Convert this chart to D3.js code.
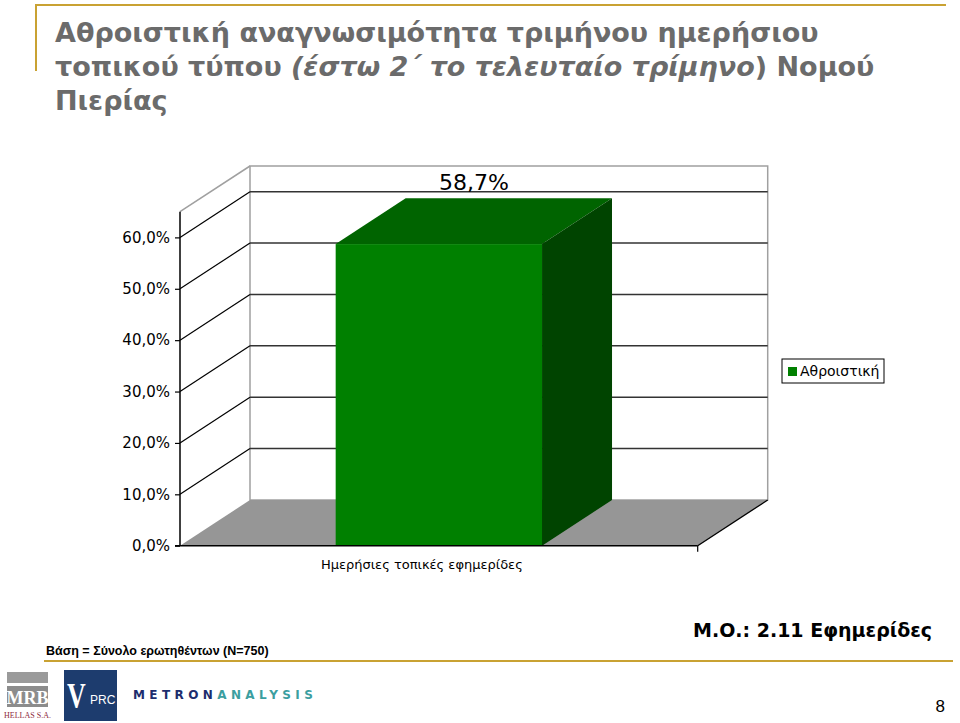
<!DOCTYPE html>
<html>
<head>
<meta charset="utf-8">
<script src="https://cdn.jsdelivr.net/npm/d3@7"></script>
<style>
  body { margin: 0; background: #fff; }
  svg { display: block; }
</style>
</head>
<body>
<svg id="vis" width="960" height="723"></svg>
<script>
// chart data
const categories = ["Ημερήσιες τοπικές εφημερίδες"];
const seriesName = "Αθροιστική";
const values = [0.587];
const yTicks = [0, 0.1, 0.2, 0.3, 0.4, 0.5, 0.6];
const yMax = 0.65;

// texts
const titleLine1 = "Αθροιστική αναγνωσιμότητα τριμήνου ημερήσιου";
const titleLine2a = "τοπικού τύπου ";
const titleLine2b = "(έστω 2΄ το τελευταίο τρίμηνο";
const titleLine2c = ") Νομού";
const titleLine3 = "Πιερίας";
const baseText = "Βάση = Σύνολο ερωτηθέντων (Ν=750)";
const meanText = "Μ.Ο.: 2.11 Εφημερίδες";
const pageNo = "8";

const GOLD = "#c9a233";
const DEPTH = {dx: 70, dy: -45.7};   // 3d offset of back wall

const svg = d3.select("#vis");

// greek style percent format (comma decimal)
const locale = d3.formatLocale({decimal: ",", thousands: ".", grouping: [3], currency: ["", "€"]});
const pct = locale.format(".1%");

// ---- title + frame lines
svg.append("line").attr("x1", 36).attr("x2", 946).attr("y1", 5).attr("y2", 5)
    .style("stroke", GOLD).style("stroke-width", 2);
svg.append("line").attr("x1", 36).attr("x2", 36).attr("y1", 4).attr("y2", 71)
    .style("stroke", GOLD).style("stroke-width", 2);

const title = svg.append("g")
    .style("font-family", "'DejaVu Sans', Verdana, sans-serif")
    .style("font-weight", "bold")
    .style("font-size", "27px")
    .style("fill", "#6b6b6b");
title.append("text").attr("x", 55).attr("y", 42).text(titleLine1);
const t2 = title.append("text").attr("x", 55).attr("y", 76);
t2.append("tspan").text(titleLine2a);
t2.append("tspan").style("font-style", "italic").text(titleLine2b);
t2.append("tspan").text(titleLine2c);
title.append("text").attr("x", 55).attr("y", 110).text(titleLine3);

// ---- scales
const x0 = 180, x1 = 697.7;
const xScale = d3.scaleBand()
    .domain(categories)
    .range([x0, x1])
    .paddingInner(0.43)
    .paddingOuter(0.43);
const yScale = d3.scaleLinear()
    .domain([0, yMax])
    .range([545.7, 211.7]);

const chart = svg.append("g");
const yBottom = yScale(0), yTop = yScale(yMax);

// back wall
chart.append("rect")
    .attr("x", x0 + DEPTH.dx).attr("y", yTop + DEPTH.dy)
    .attr("width", x1 - x0).attr("height", yBottom - yTop)
    .style("fill", "#fff").style("stroke", "#a0a0a0").style("stroke-width", 1.5);
// side wall top edge
chart.append("line")
    .attr("x1", x0).attr("y1", yTop).attr("x2", x0 + DEPTH.dx).attr("y2", yTop + DEPTH.dy)
    .style("stroke", "#a0a0a0").style("stroke-width", 1.5);

// floor
chart.append("path")
    .attr("d", `M${x0},${yBottom} L${x1},${yBottom} L${x1 + DEPTH.dx},${yBottom + DEPTH.dy} L${x0 + DEPTH.dx},${yBottom + DEPTH.dy} Z`)
    .style("fill", "#969696").style("stroke", "none");
chart.append("line")
    .attr("x1", x1).attr("y1", yBottom).attr("x2", x1 + DEPTH.dx).attr("y2", yBottom + DEPTH.dy)
    .style("stroke", "#000").style("stroke-width", 1.3);

// gridlines: on side wall and back wall
const grid = chart.selectAll(".grid")
    .data(yTicks.filter(d => d > 0))
    .enter().append("g");
grid.append("line")
    .attr("x1", x0).attr("y1", d => yScale(d))
    .attr("x2", x0 + DEPTH.dx).attr("y2", d => yScale(d) + DEPTH.dy)
    .style("stroke", "#000").style("stroke-width", 1.2);
grid.append("line")
    .attr("x1", x0 + DEPTH.dx).attr("y1", d => yScale(d) + DEPTH.dy)
    .attr("x2", x1 + DEPTH.dx).attr("y2", d => yScale(d) + DEPTH.dy)
    .style("stroke", "#333").style("stroke-width", 1.5);

// bars (front, top, side)
const bars = chart.selectAll(".bar")
    .data(values)
    .enter().append("g");
bars.append("path")
    .attr("d", (d, i) => {
        const bx = xScale(categories[i]), bw = xScale.bandwidth(), by = yScale(d);
        return `M${bx},${by} L${bx + bw},${by} L${bx + bw + DEPTH.dx},${by + DEPTH.dy} L${bx + DEPTH.dx},${by + DEPTH.dy} Z`;
    })
    .style("fill", "#006400");
bars.append("path")
    .attr("d", (d, i) => {
        const bx = xScale(categories[i]) + xScale.bandwidth(), by = yScale(d);
        return `M${bx},${by} L${bx + DEPTH.dx},${by + DEPTH.dy} L${bx + DEPTH.dx},${yBottom + DEPTH.dy} L${bx},${yBottom} Z`;
    })
    .style("fill", "#004400");
bars.append("rect")
    .attr("x", (d, i) => xScale(categories[i]))
    .attr("y", d => yScale(d))
    .attr("width", xScale.bandwidth())
    .attr("height", d => yBottom - yScale(d))
    .style("fill", "#008000");
// value labels
bars.append("text")
    .attr("x", (d, i) => xScale(categories[i]) + xScale.bandwidth() / 2 + DEPTH.dx / 2)
    .attr("y", d => yScale(d) + DEPTH.dy - 8.5)
    .style("text-anchor", "middle")
    .style("font-family", "'DejaVu Sans', Verdana, sans-serif")
    .style("font-size", "22px")
    .style("fill", "#000")
    .text(d => pct(d));

// axis line + bottom edge
const yAxis = d3.axisLeft(yScale)
    .tickValues(yTicks)
    .tickSize(5)
    .tickPadding(5)
    .tickFormat(d => pct(d));
const axisG = chart.append("g")
    .attr("transform", `translate(${x0},0)`)
    .call(yAxis);
axisG.select(".domain").attr("d", `M0,${yTop}V${yBottom}`).style("stroke-width", 1.5);
axisG.selectAll("text")
    .style("font-family", "'DejaVu Sans', Verdana, sans-serif")
    .style("font-size", "15px")
    .style("fill", "#000");
axisG.selectAll(".tick line").style("stroke-width", 1.2);

chart.append("line")
    .attr("x1", x0 - 5).attr("x2", x1).attr("y1", yBottom).attr("y2", yBottom)
    .style("stroke", "#000").style("stroke-width", 1.5);
chart.append("line")
    .attr("x1", x1).attr("x2", x1).attr("y1", yBottom).attr("y2", yBottom + 6)
    .style("stroke", "#000").style("stroke-width", 1.2);

// category labels
chart.selectAll(".cat")
    .data(categories)
    .enter().append("text")
    .attr("x", d => xScale(d) + xScale.bandwidth() / 2 - 17)
    .attr("y", 569)
    .style("text-anchor", "middle")
    .style("font-family", "'DejaVu Sans', Verdana, sans-serif")
    .style("font-size", "13px")
    .style("fill", "#000")
    .text(d => d);

// legend
const legend = svg.append("g").attr("transform", "translate(782,359)");
legend.append("rect").attr("width", 102).attr("height", 24)
    .style("fill", "#fff").style("stroke", "#000").style("stroke-width", 1);
legend.append("rect").attr("x", 6).attr("y", 8).attr("width", 9).attr("height", 9)
    .style("fill", "#008000");
legend.append("text").attr("x", 18).attr("y", 17)
    .style("font-family", "'DejaVu Sans', Verdana, sans-serif")
    .style("font-size", "14px")
    .text(seriesName);

// ---- footer
svg.append("line").attr("x1", 44).attr("x2", 953).attr("y1", 661).attr("y2", 661)
    .style("stroke", GOLD).style("stroke-width", 2);
svg.append("text").attr("x", 46).attr("y", 655)
    .style("font-family", "'Liberation Sans', Arial, sans-serif")
    .style("font-weight", "bold").style("font-size", "12.5px")
    .text(baseText);
svg.append("text").attr("x", 693).attr("y", 637)
    .style("font-family", "'DejaVu Sans', Verdana, sans-serif")
    .style("font-weight", "bold").style("font-size", "19px")
    .text(meanText);
svg.append("text").attr("x", 945).attr("y", 712)
    .style("font-family", "'Liberation Sans', Arial, sans-serif")
    .style("font-size", "17px").style("text-anchor", "end")
    .text(pageNo);

// logos
const mrb = svg.append("g");
mrb.append("rect").attr("x", 7).attr("y", 672).attr("width", 41).attr("height", 11).style("fill", "#9a9a9a");
mrb.append("rect").attr("x", 7).attr("y", 686).attr("width", 41).attr("height", 21).style("fill", "#8c8c8c");
mrb.append("text").attr("x", 27.5).attr("y", 704).style("text-anchor", "middle")
    .style("font-family", "'Liberation Serif', serif").style("font-weight", "bold")
    .style("font-size", "18px").style("fill", "#fff").text("MRB");
mrb.append("text").attr("x", 27.5).attr("y", 718).style("text-anchor", "middle")
    .style("font-family", "'Liberation Serif', serif")
    .style("font-size", "8px").style("fill", "#8e2a3c").text("HELLAS S.A.");

const vprc = svg.append("g");
vprc.append("rect").attr("x", 64).attr("y", 670).attr("width", 53).attr("height", 51).style("fill", "#1d3c6e");
vprc.append("text").attr("transform", "translate(67,708) scale(0.72,1)")
    .style("font-family", "'Liberation Serif', serif").style("font-weight", "bold")
    .style("font-size", "36px").style("fill", "#fff").text("V");
vprc.append("text").attr("x", 90).attr("y", 704)
    .style("font-family", "'Liberation Sans', sans-serif")
    .style("font-size", "12px").style("fill", "#fff").text("PRC");

const metron = svg.append("text").attr("x", 133).attr("y", 699)
    .style("font-family", "'DejaVu Sans', sans-serif").style("font-weight", "bold")
    .style("font-size", "12px").style("letter-spacing", "4.4px");
metron.append("tspan").style("fill", "#1d2d6e").text("METRON");
metron.append("tspan").style("fill", "#3b9ea0").text("ANALYSIS");
</script>
</body>
</html>
